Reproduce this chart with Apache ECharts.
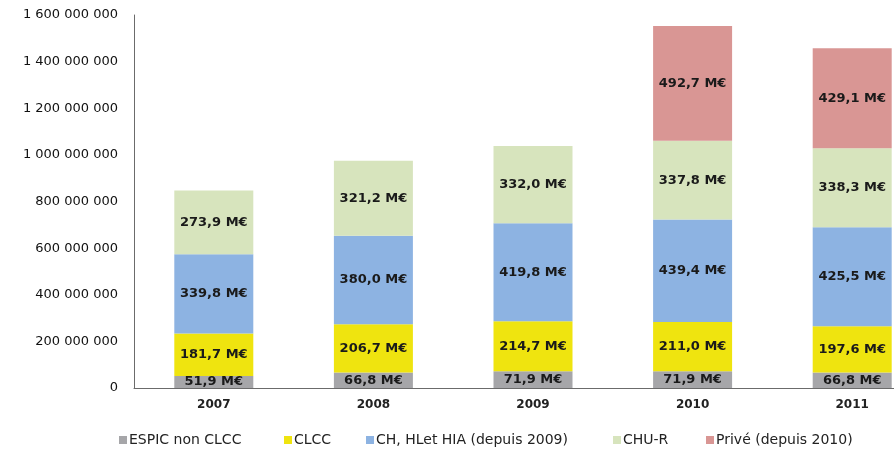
<!DOCTYPE html>
<html>
<head>
<meta charset="utf-8">
<script src="https://cdn.jsdelivr.net/npm/echarts@6/dist/echarts.min.js"></script>
<style>html,body{margin:0;padding:0;background:#fff;overflow:hidden;width:894px;height:450px}#c{width:932px;height:450px}</style>
</head>
<body>
<div id="c"></div>
<script>
// Data (values in M€)
const categories = ['2007', '2008', '2009', '2010', '2011'];
const espic = [51.9, 66.8, 71.9, 71.9, 66.8];
const clcc = [181.7, 206.7, 214.7, 211.0, 197.6];
const chHia = [339.8, 380.0, 419.8, 439.4, 425.5];
const chuR = [273.9, 321.2, 332.0, 337.8, 338.3];
const prive = [null, null, null, 492.7, 429.1];
const seriesNames = ['ESPIC non CLCC', 'CLCC', 'CH, HLet HIA (depuis 2009)', 'CHU-R', 'Privé (depuis 2010)'];
const yTicks = [0, 200, 400, 600, 800, 1000, 1200, 1400, 1600];

const colors = ['#a6a6a9', '#efe40f', '#8db3e2', '#d7e4bd', '#d99694'];
const seriesData = [espic, clcc, chHia, chuR, prive];
const legendLeft = [119, 284, 366, 613, 706];

const fmtAxis = v => String(Math.round(v * 1e6)).replace(/\B(?=(\d{3})+(?!\d))/g, ' ');
const fmtLabel = p => p.value == null ? '' : p.value.toFixed(1).replace('.', ',') + ' M€';

const chart = echarts.init(document.getElementById('c'));
chart.setOption({
  animation: false,
  backgroundColor: '#fff',
  textStyle: { fontFamily: 'DejaVu Sans' },
  grid: { left: 134, right: 0, top: 15, bottom: 62, containLabel: false },
  legend: seriesNames.map((n, i) => ({
    data: [n],
    left: legendLeft[i],
    top: 433,
    icon: 'rect',
    itemWidth: 8,
    itemHeight: 8,
    itemGap: 0,
    padding: 0,
    textStyle: { fontSize: 14, color: '#222', fontFamily: 'DejaVu Sans', padding: [0, 0, 0, -3] }
  })),
  xAxis: {
    type: 'category',
    data: categories,
    axisLine: { lineStyle: { color: '#6b6b6b', width: 1 } },
    axisTick: { show: false },
    axisLabel: { fontSize: 12, fontWeight: 'bold', color: '#222', margin: 11 }
  },
  yAxis: {
    type: 'value',
    min: yTicks[0],
    max: yTicks[yTicks.length - 1],
    interval: 200,
    splitLine: { show: false },
    axisLine: { show: true, lineStyle: { color: '#6b6b6b', width: 1 } },
    axisTick: { show: false },
    axisLabel: { formatter: fmtAxis, fontSize: 13, color: '#111', margin: 16 }
  },
  series: seriesNames.map((n, i) => ({
    name: n,
    type: 'bar',
    stack: 'total',
    barWidth: 79,
    data: seriesData[i],
    itemStyle: { color: colors[i] },
    label: {
      show: true,
      position: 'inside',
      formatter: fmtLabel,
      fontSize: 13,
      fontWeight: 'bold',
      color: '#1a1a1a'
    }
  }))
});
</script>
</body>
</html>
